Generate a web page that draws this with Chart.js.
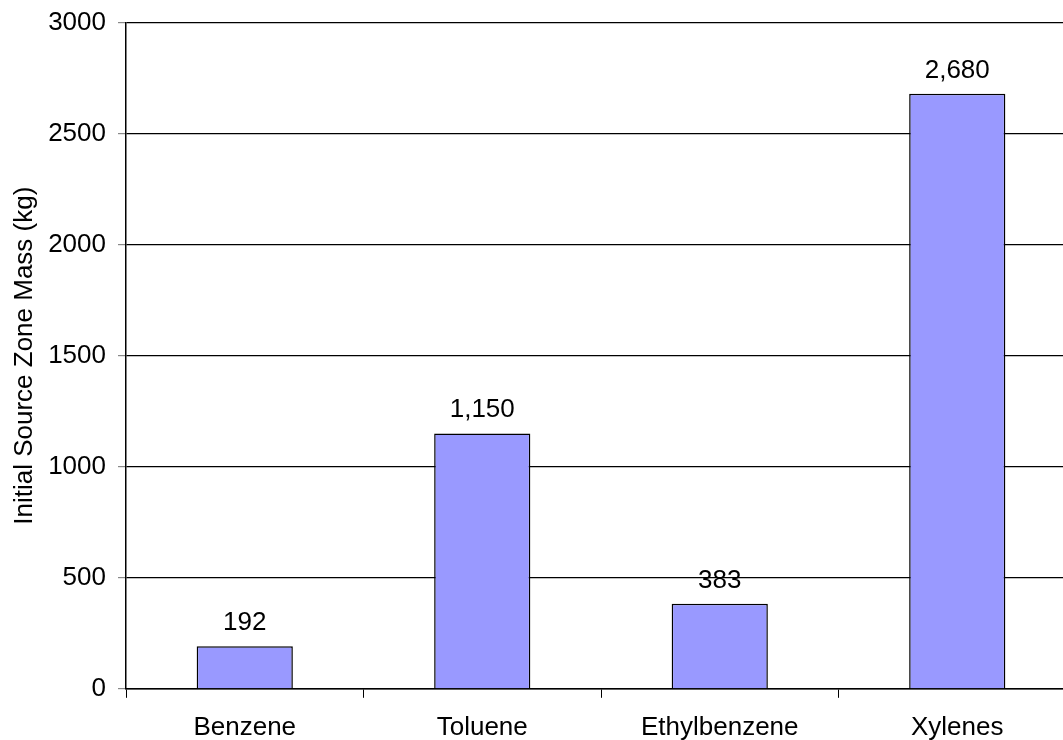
<!DOCTYPE html>
<html>
<head>
<meta charset="utf-8">
<script src="https://cdn.jsdelivr.net/npm/chart.js@4.4.0/dist/chart.umd.min.js"></script>
<style>
    body { margin: 0; background: #fff; overflow: hidden; }
    #wrap { position: absolute; left: 0; top: -5px; width: 1080px; height: 762px; }
</style>
</head>
<body>
<div id="wrap"><canvas id="myChart"></canvas></div>
<script>
// Data
var compounds = ['Benzene', 'Toluene', 'Ethylbenzene', 'Xylenes'];
var sourceMass = [192, 1150, 383, 2680];
var yTicks = [0, 500, 1000, 1500, 2000, 2500, 3000];

var FONT = 'Liberation Sans, Arial, sans-serif';
var FSIZE = 26;

// draws the value above each bar
var barLabels = {
    id: 'barLabels',
    afterDatasetsDraw: function(chart) {
        var ctx = chart.ctx;
        var meta = chart.getDatasetMeta(0);
        ctx.save();
        ctx.font = FSIZE + 'px ' + FONT;
        ctx.fillStyle = '#000';
        ctx.textAlign = 'center';
        ctx.textBaseline = 'alphabetic';
        meta.data.forEach(function(bar, i) {
            ctx.fillText(sourceMass[i].toLocaleString('en-US'), bar.x, bar.y - 16);
        });
        ctx.restore();
    }
};

var ctx = document.getElementById('myChart').getContext('2d');
var myChart = new Chart(ctx, {
    type: 'bar',
    data: {
        labels: compounds,
        datasets: [{
            label: 'Initial Source Zone Mass (kg)',
            data: sourceMass,
            backgroundColor: '#9999ff',
            borderColor: '#000',
            borderWidth: 1.5,
            categoryPercentage: 1,
            barPercentage: 0.405
        }]
    },
    options: {
        responsive: true,
        maintainAspectRatio: false,
        animation: false,
        layout: { padding: { top: 0, right: 4, left: 0, bottom: 0 } },
        plugins: {
            legend: { display: false },
            tooltip: { enabled: false }
        },
        scales: {
            x: {
                grid: {
                    offset: true,
                    drawOnChartArea: false,
                    drawTicks: true,
                    tickLength: 9,
                    color: '#000'
                },
                border: { color: '#000', width: 1.5 },
                ticks: {
                    color: '#000',
                    font: { family: FONT, size: FSIZE },
                    padding: 14,
                    maxRotation: 0
                }
            },
            y: {
                min: 0,
                max: 3000,
                afterBuildTicks: function(scale) {
                    scale.ticks = yTicks.map(function(v) { return { value: v }; });
                },
                afterFit: function(scale) {
                    scale.width = 126;
                },
                grid: {
                    color: '#000',
                    lineWidth: 1.2,
                    tickLength: 8,
                    tickColor: '#888'
                },
                border: { color: '#000', width: 1.5 },
                ticks: {
                    color: '#000',
                    font: { family: FONT, size: FSIZE },
                    padding: 12,
                    callback: function(v) { return String(v); }
                },
                title: {
                    display: true,
                    text: 'Initial Source Zone Mass (kg)',
                    color: '#000',
                    font: { family: FONT, size: FSIZE },
                    padding: { top: 9, bottom: 0 }
                }
            }
        }
    },
    plugins: [barLabels]
});
</script>
</body>
</html>
